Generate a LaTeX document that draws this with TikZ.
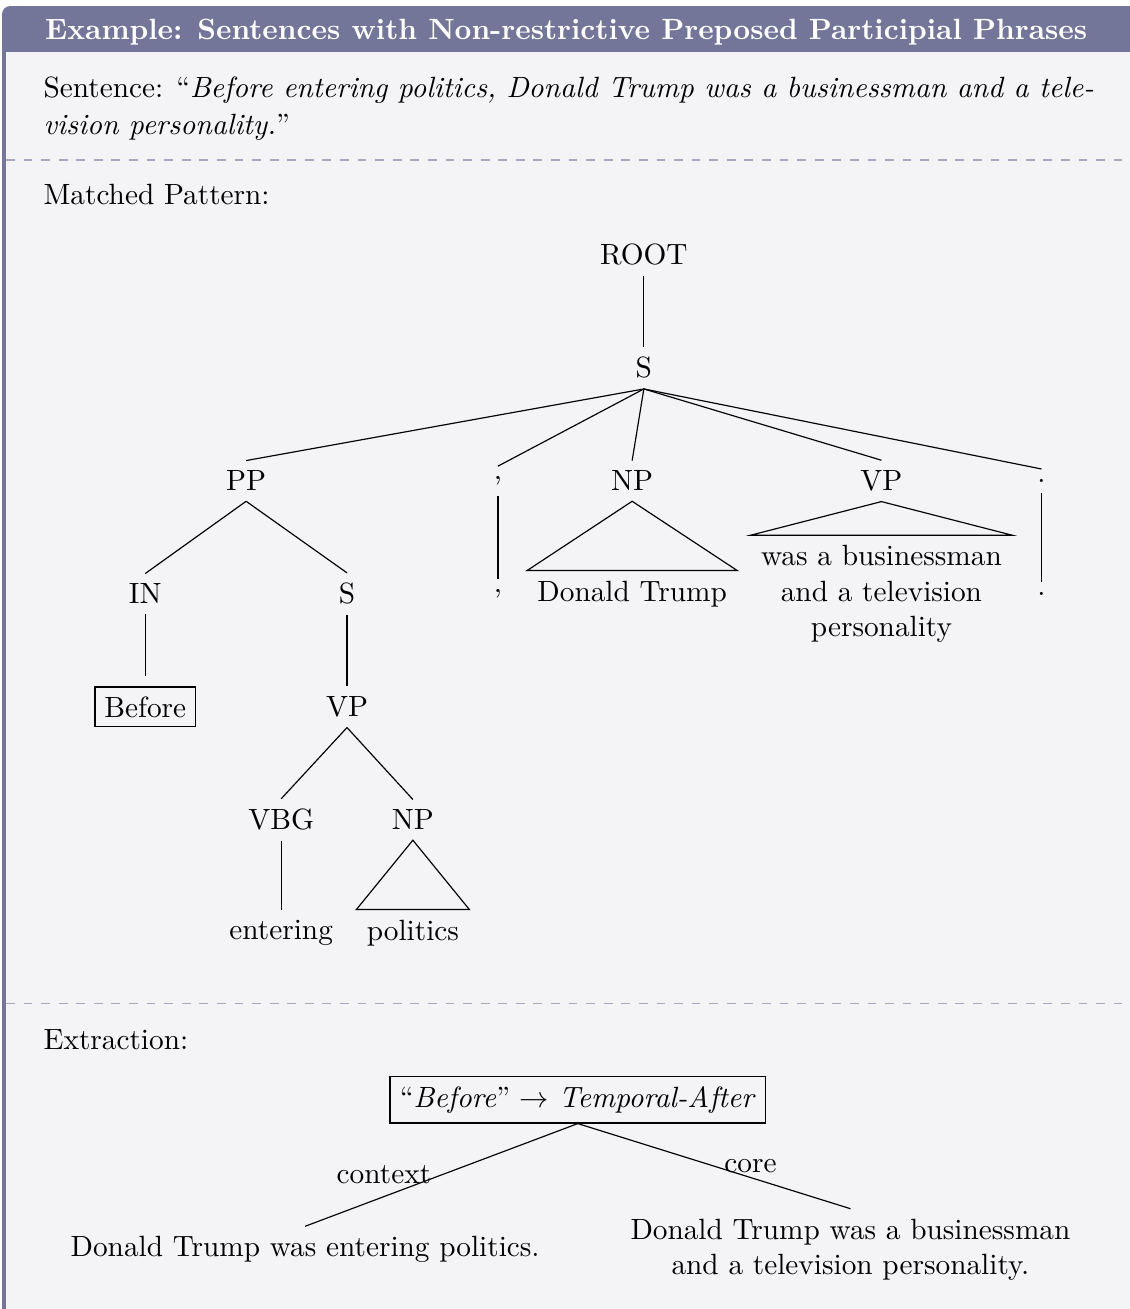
\documentclass[tikz,border=0pt]{standalone}
\usetikzlibrary{positioning, backgrounds}
\definecolor{boxframe}{HTML}{737599}
\definecolor{boxback}{HTML}{F4F4F6}
\definecolor{segline}{HTML}{A6A7BF}

\begin{document}
\begin{tikzpicture}[
    on grid,
    node distance=1.355cm,
    caption/.style={anchor=base west, inner sep=0pt},
    leaf/.style={align=center},
    relation/.style={draw},
    segment/.style={draw=segline, dashed}
]
\useasboundingbox (0,0) rectangle (13.55,-15.70);

% Headings
\node[caption, text=white, font=\bfseries] (title) at (0.535,-0.468) {Example: Sentences with Non-restrictive Preposed Participial Phrases};
\node[caption] (sent1) at (0.516,-1.175) {Sentence: ``\textit{Before entering politics, Donald Trump was a businessman and a tele-}};
\node[caption] (sent2) at (0.516,-1.619) {\textit{vision personality.}''};
\node[caption] (match) at (0.516,-2.458) {Matched Pattern:};
\node[caption] (extr) at (0.516,-12.59) {Extraction:};

% Parse tree
\node (root) at (7.722,-3.058) {ROOT};
\node[below=of root] (s) {S};
\node[below left=1.355cm and 4.77cm of s] (pp) {PP};
\node[below left=1.355cm and 1.75cm of s] (comma) {,};
\node[below left=1.355cm and 0.14cm of s] (np) {NP};
\node[below right=1.355cm and 2.85cm of s] (vp) {VP};
\node[below right=1.355cm and 4.77cm of s] (stop) {.};
\node[below left=1.355cm and 1.21cm of pp] (in) {IN};
\node[below right=1.355cm and 1.21cm of pp] (ss) {S};
\node[below=of comma] (commaw) {,};
\node[below=of np] (trump) {Donald Trump};
\node[leaf, below=of vp] (pred) {was a businessman\\and a television\\personality};
\node[below=of stop] (stopw) {.};
\node[below=of in] (before) {\fbox{Before}};
\node[below=of ss] (vpp) {VP};
\node[below left=1.355cm and 0.79cm of vpp] (vbg) {VBG};
\node[below right=1.355cm and 0.79cm of vpp] (npp) {NP};
\node[below=of vbg] (entering) {entering};
\node[below=of npp] (politics) {politics};

% Extraction
\node[relation] (rel) at (6.93,-13.19) {``\textit{Before}'' $\to$ \textit{Temporal-After}};
\node[below left=1.80cm and 3.27cm of rel] (ctx) {Donald Trump was entering politics.};
\node[leaf, below right=1.80cm and 3.27cm of rel] (core) {Donald Trump was a businessman\\and a television personality.};

% Edges
\draw (root.south) -- (s.north);
\draw (s.south) -- (pp.north);
\draw (s.south) -- (comma.north);
\draw (s.south) -- (np.north);
\draw (s.south) -- (vp.north);
\draw (s.south) -- (stop.north);
\draw (pp.south) -- (in.north);
\draw (pp.south) -- (ss.north);
\draw (comma.south) -- (commaw.north);
\draw (np.south) -- (trump.north west) -- (trump.north east) -- cycle;
\draw (vp.south) -- (pred.north west) -- (pred.north east) -- cycle;
\draw (stop.south) -- (stopw.north);
\draw (in.south) -- (before.north);
\draw (ss.south) -- (vpp.north);
\draw (vpp.south) -- (vbg.north);
\draw (vpp.south) -- (npp.north);
\draw (vbg.south) -- (entering.north);
\draw (npp.south) -- (politics.north west) -- (politics.north east) -- cycle;
\draw (rel.south) -- node[midway, left] {context} (ctx.north);
\draw (rel.south) -- node[midway, right] {core} (core.north);

% Box
\begin{scope}[on background layer]
    \clip (0,0) rectangle (13.55,-15.70);
    \fill[boxframe, rounded corners=1mm] (0.024,-0.072) rectangle (14,-16);
    \fill[boxback] (0.072,-0.623) rectangle (14,-16);
    \draw[segment] (0.072,-1.918) -- (14,-1.918);
    \draw[segment] (0.072,-12.04) -- (14,-12.04);
\end{scope}

\end{tikzpicture}
\end{document}
